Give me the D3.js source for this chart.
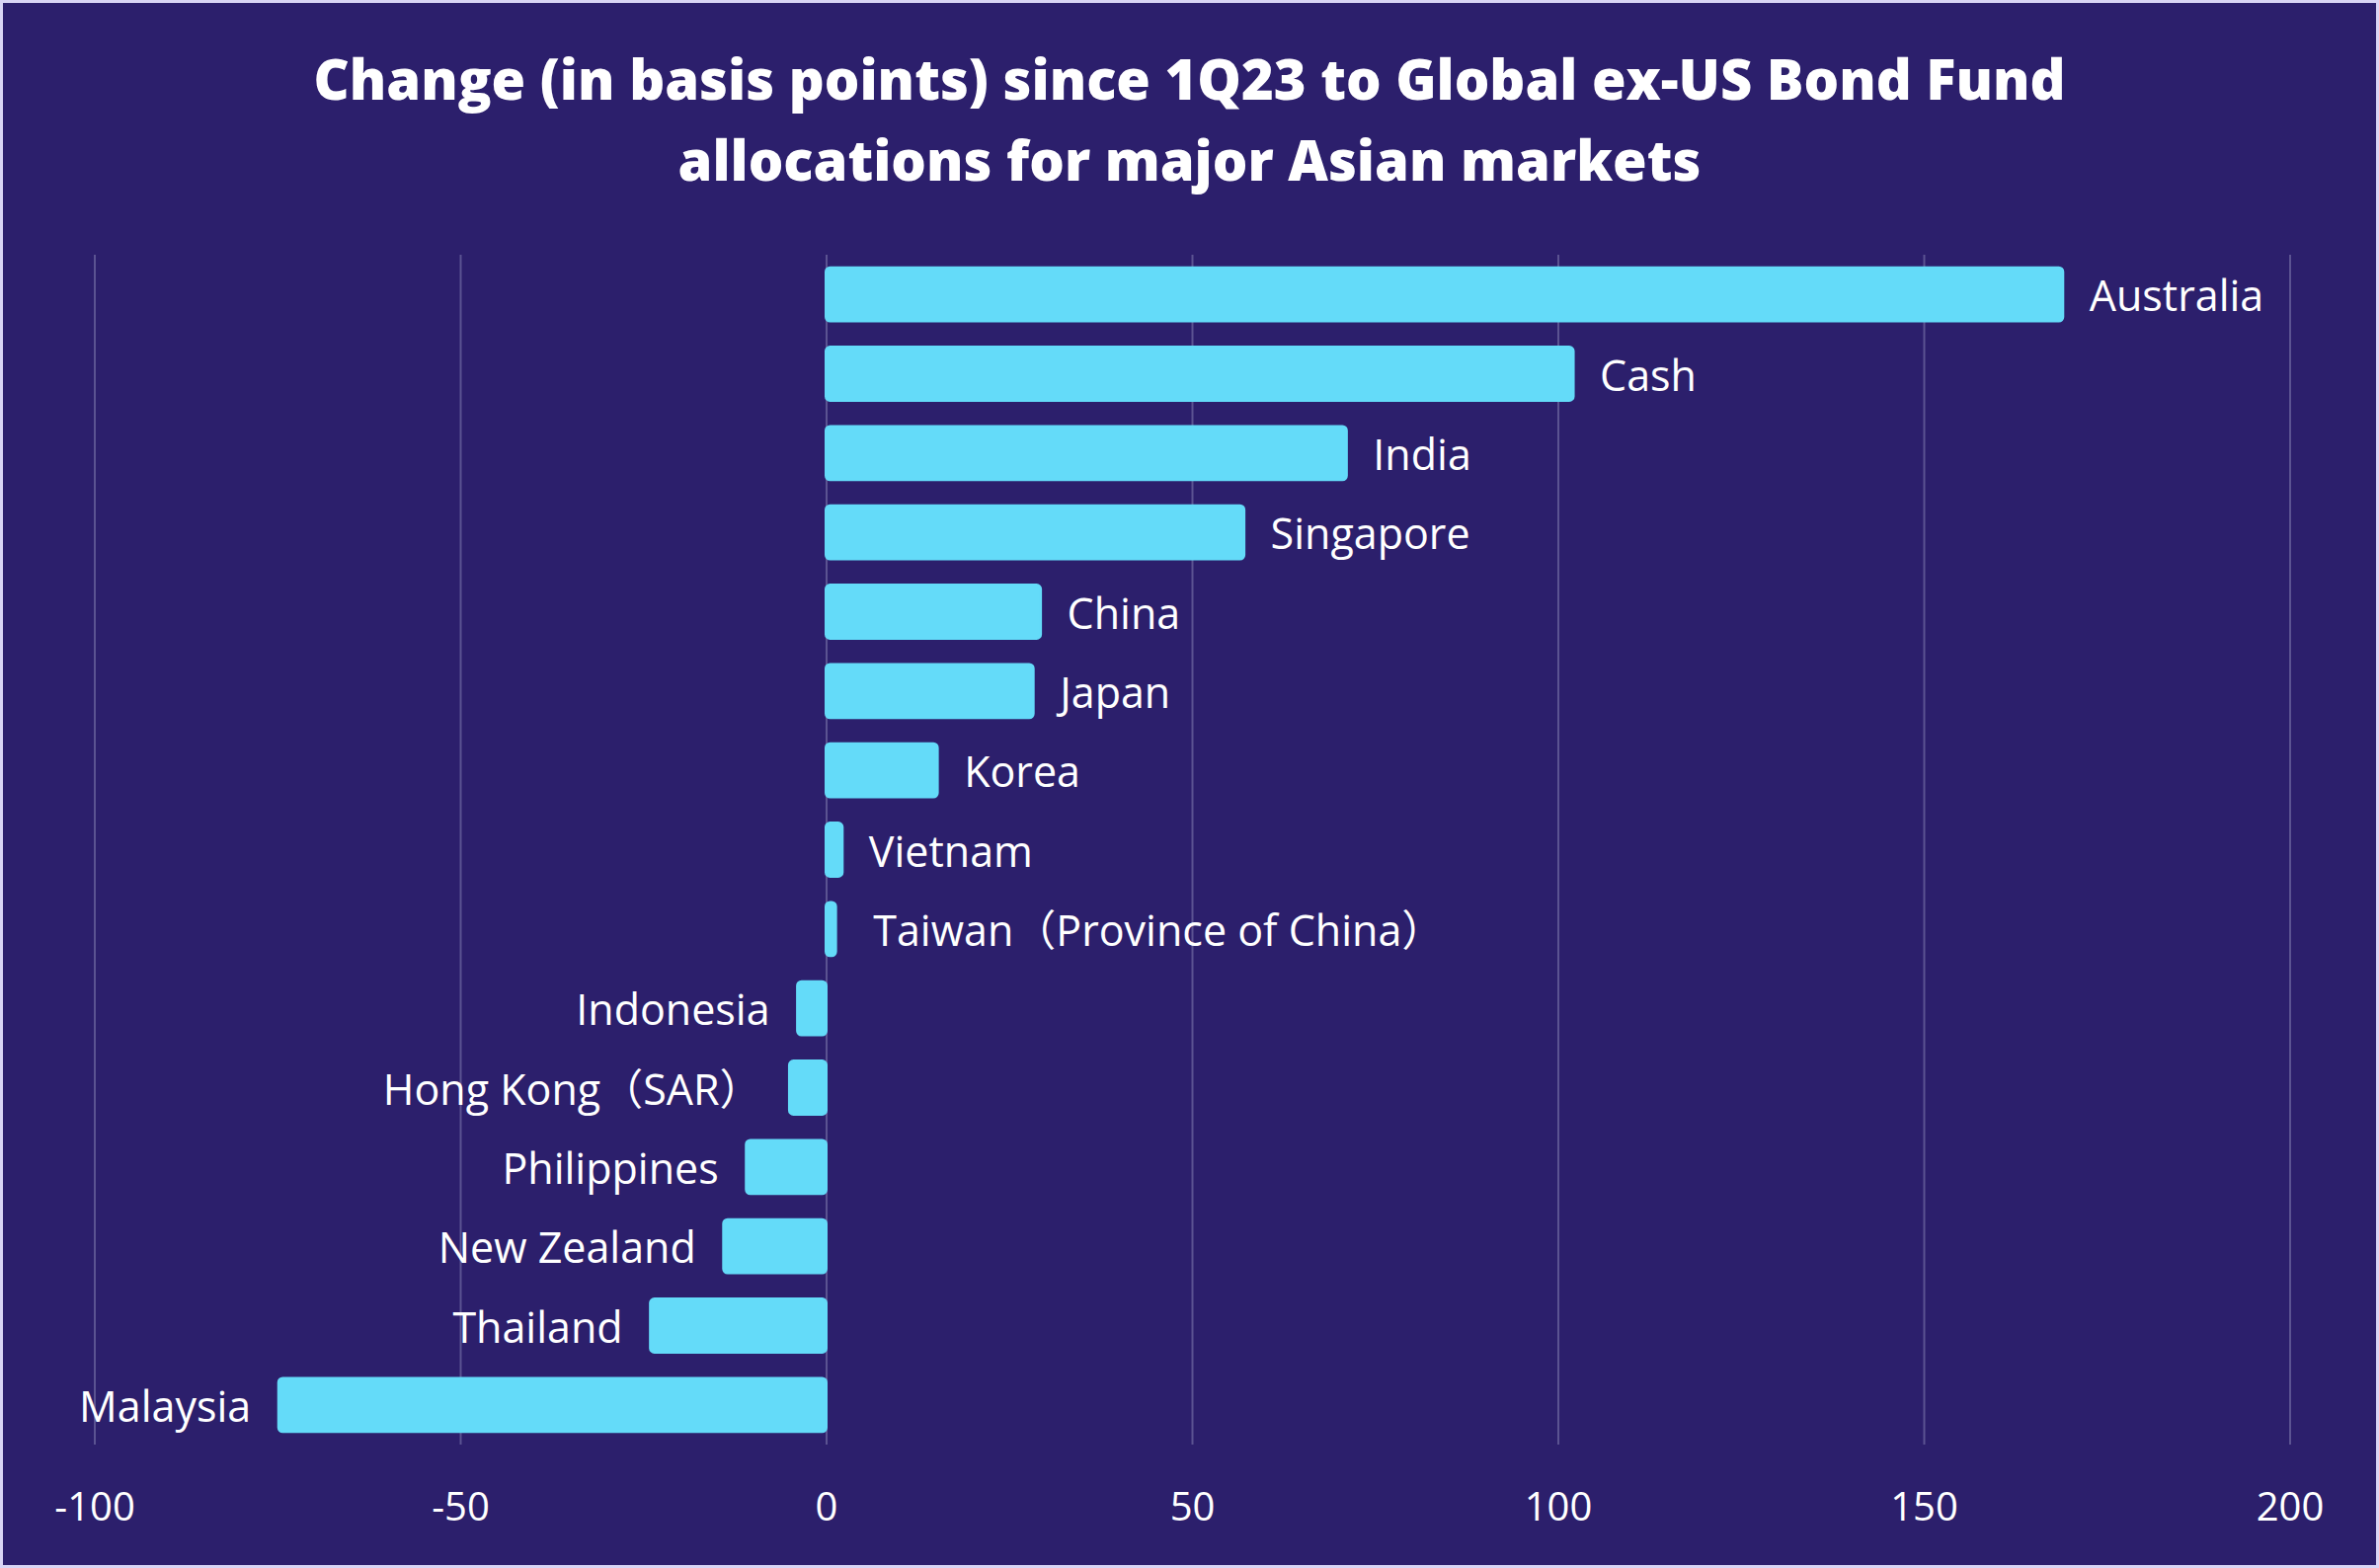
<!DOCTYPE html>
<html>
<head>
<meta charset="utf-8">
<script src="https://cdn.jsdelivr.net/npm/d3@7"></script>
<style>
  body { margin: 0; background: #d9d5f4; }
  text { font-family: "Open Sans", "Noto Sans CJK SC", sans-serif; fill: #ffffff; }
</style>
</head>
<body>
<div id="chart"></div>
<script>
// chart size
const FRAME_WIDTH = 2409;
const FRAME_HEIGHT = 1588;
const PLOT = {left: 95.5, right: 2318.5, top: 258, bottom: 1463};

// data, top to bottom
const markets = ["Australia", "Cash", "India", "Singapore", "China", "Japan", "Korea", "Vietnam",
                 " Taiwan（Province of China）", "Indonesia", "Hong Kong（SAR）", "Philippines",
                 "New Zealand", "Thailand", "Malaysia"];
const changes = [169, 102.1, 71.1, 57.1, 29.3, 28.3, 15.2, 2.2, 1.3, -3.9, -5, -10.9, -14, -24, -74.8];
const xTicks = [-100, -50, 0, 50, 100, 150, 200];
const titleLines = ["Change (in basis points) since 1Q23 to Global ex-US Bond Fund",
                    "allocations for major Asian markets"];

const data = markets.map((m, i) => ({market: m, value: changes[i]}));

const svg = d3.select("#chart")
              .append("svg")
                .attr("width", FRAME_WIDTH)
                .attr("height", FRAME_HEIGHT);

// border + background
svg.append("rect")
    .attr("width", FRAME_WIDTH)
    .attr("height", FRAME_HEIGHT)
    .attr("fill", "#d9d5f4");
svg.append("rect")
    .attr("x", 3).attr("y", 3)
    .attr("width", FRAME_WIDTH - 6)
    .attr("height", FRAME_HEIGHT - 6)
    .attr("fill", "#2c1f6c");

// title
svg.append("g")
    .selectAll("text")
    .data(titleLines)
    .enter()
    .append("text")
      .attr("x", FRAME_WIDTH / 2)
      .attr("y", (d, i) => 101 + i * 82)
      .attr("text-anchor", "middle")
      .attr("font-size", 56)
      .attr("font-weight", 800)
      .text(d => d);

// scales
const x = d3.scaleLinear()
            .domain([-100, 200])
            .range([PLOT.left, PLOT.right]);

const y = d3.scaleBand()
            .domain(markets)
            .range([PLOT.top, PLOT.bottom])
            .paddingInner(0.33)
            .paddingOuter(0.165);

// x axis with gridlines
const xAxis = svg.append("g")
    .attr("transform", "translate(0," + PLOT.bottom + ")")
    .call(d3.axisBottom(x)
            .tickValues(xTicks)
            .tickFormat(d => String(d))
            .tickSize(-(PLOT.bottom - PLOT.top))
            .tickPadding(49));

xAxis.select(".domain").remove();
xAxis.selectAll(".tick line")
    .attr("stroke", "#5b5391")
    .attr("stroke-width", 2);
xAxis.selectAll(".tick text")
    .attr("font-size", 40)
    .attr("font-family", "'Open Sans', sans-serif")
    .attr("fill", "#ffffff");

// bars
svg.append("g")
    .selectAll("rect")
    .data(data)
    .enter()
    .append("rect")
      .attr("x", d => x(Math.min(0, d.value)))
      .attr("y", d => y(d.market))
      .attr("width", d => Math.abs(x(d.value) - x(0)))
      .attr("height", y.bandwidth())
      .attr("rx", 4)
      .attr("fill", "#64dbf9")
      .attr("stroke", "#64dbf9")
      .attr("stroke-width", 3);

// labels
svg.append("g")
    .selectAll("text")
    .data(data)
    .enter()
    .append("text")
      .attr("x", d => d.value >= 0 ? x(d.value) + 27 : x(d.value) - 28)
      .attr("y", d => y(d.market) + y.bandwidth() / 2)
      .attr("dy", "0.4em")
      .attr("text-anchor", d => d.value >= 0 ? "start" : "end")
      .attr("font-size", 43)
      .style("white-space", "pre")
      .text(d => d.market);
</script>
</body>
</html>
